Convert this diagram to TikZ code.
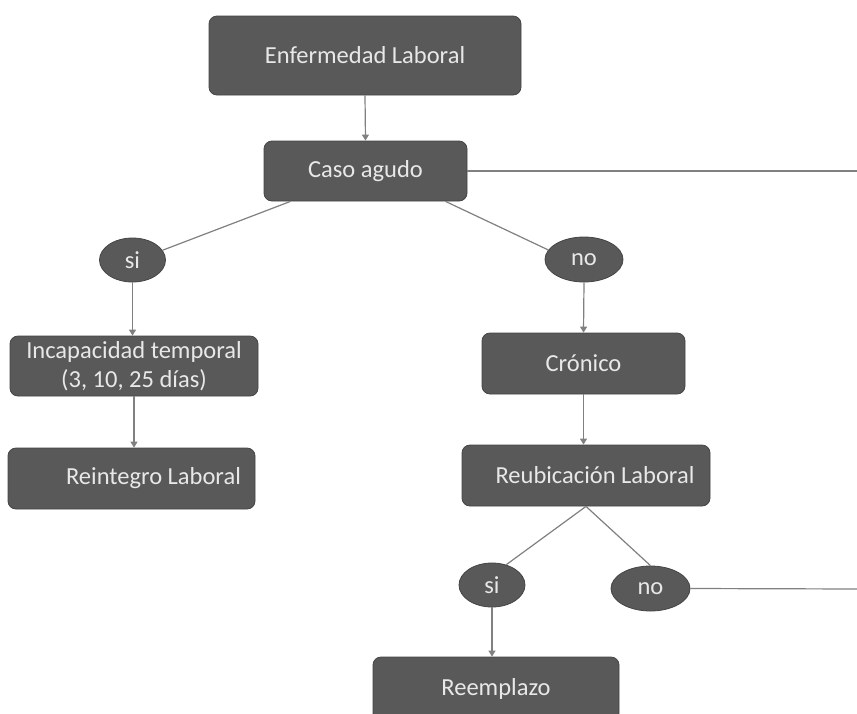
\documentclass[tikz,border=0pt]{standalone}
\usepackage{fontspec}
\setmainfont{Carlito}
\usetikzlibrary{shapes.geometric,arrows.meta}
\definecolor{boxfill}{HTML}{595959}
\definecolor{boxline}{HTML}{454545}
\definecolor{boxtext}{HTML}{E8E8E8}
\definecolor{conn}{HTML}{808080}
\tikzset{
  box/.style={draw=boxline, fill=boxfill, rounded corners=8pt, text=boxtext,
    font=\fontsize{24.5}{29}\selectfont, inner sep=0pt, align=center, line width=0.8pt},
  oval/.style={ellipse, draw=boxline, fill=boxfill, text=boxtext,
    font=\fontsize{24.5}{29}\selectfont, inner sep=0pt, line width=0.8pt},
  conline/.style={draw=conn, line width=1.2pt},
  conarrow/.style={conline, -{Triangle[width=7pt,length=6pt]}},
}
\begin{document}
\begin{tikzpicture}[x=1pt,y=-1pt]
\clip (0,0) rectangle (857,713);
\fill[white] (0,0) rectangle (857,713);
\node[box, minimum width=312pt, minimum height=79pt] (enf) at (365,55.5) {Enfermedad Laboral};
\node[box, minimum width=203pt, minimum height=60pt] (caso) at (365.5,171) {Caso agudo};
\node[oval, minimum width=66pt, minimum height=44pt] (si1) at (132.5,260) {si};
\node[oval, minimum width=78pt, minimum height=45pt] (no1) at (584,259.5) {no};
\node[box, minimum width=248pt, minimum height=60pt] (inc) at (134,366) {Incapacidad temporal\\(3, 10, 25 días)};
\node[box, minimum width=247pt, minimum height=61pt] (rei) at (131.5,478.5) {\hspace*{44pt}Reintegro Laboral};
\node[box, minimum width=203pt, minimum height=61pt] (cro) at (583.5,363.5) {Crónico};
\node[box, minimum width=248pt, minimum height=61pt] (reu) at (586,475.5) {\hspace*{18pt}Reubicación Laboral};
\node[oval, minimum width=66pt, minimum height=44pt] (si2) at (492,585) {si};
\node[oval, minimum width=79pt, minimum height=45pt] (no2) at (650.5,588.5) {no};
\node[box, minimum width=246pt, minimum height=64pt] (ree) at (496,689) {Reemplazo};
\coordinate (edgeA) at (860,171);
\coordinate (edgeB) at (860,589);
\draw[conarrow] (enf.south) -- (caso.north);
\draw[conline] (caso.east) -- (edgeA);
\draw[conline] ([xshift=-75pt]caso.south) -- (si1.18);
\draw[conline] ([xshift=80pt]caso.south) -- (no1.165);
\draw[conarrow] (si1.south) -- (si1.south |- inc.north);
\draw[conarrow] (inc.south) -- (inc.south |- rei.north);
\draw[conarrow] (no1.south) -- (cro.north);
\draw[conarrow] (cro.south) -- (cro.south |- reu.north);
\draw[conline] (reu.south) -- (si2.55);
\draw[conline] (reu.south) -- (no2.north);
\draw[conline] (no2.east) -- (edgeB);
\draw[conarrow] (si2.south) -- (si2.south |- ree.north);
\end{tikzpicture}
\end{document}
